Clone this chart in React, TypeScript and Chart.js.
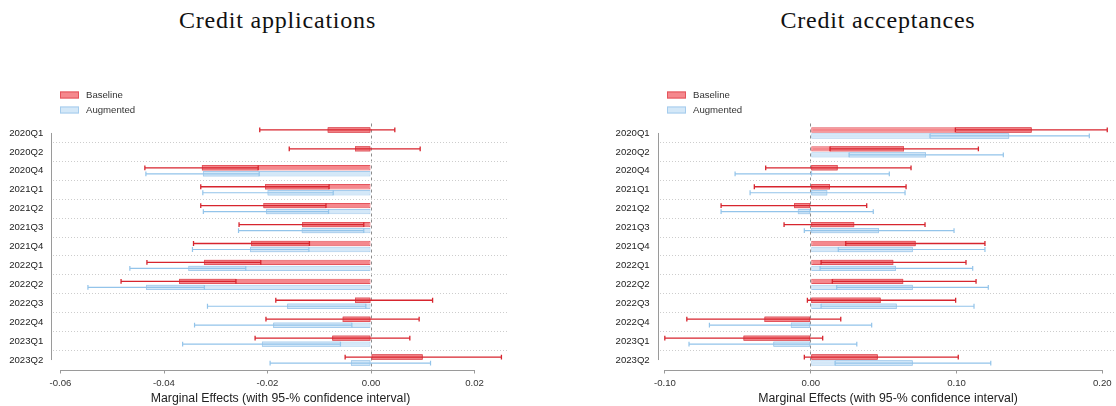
import React, { useEffect, useRef } from 'react';
import { Chart, registerables } from 'chart.js';

Chart.register(...registerables);

// Quarters shown on the vertical axis (top to bottom)
const categories = [
  '2020Q1', '2020Q2', '2020Q4', '2021Q1', '2021Q2', '2021Q3', '2021Q4',
  '2022Q1', '2022Q2', '2022Q3', '2022Q4', '2023Q1', '2023Q2',
];

// Credit applications: marginal effects with 95% confidence bounds
const appBaselineEst = [-0.0084, -0.0031, -0.0327, -0.0205, -0.0208, -0.0133, -0.0232, -0.0323, -0.0371, -0.0031, -0.0055, -0.0075, 0.0100];
const appBaselineLo = [-0.0215, -0.0158, -0.0437, -0.0329, -0.0329, -0.0255, -0.0343, -0.0433, -0.0483, -0.0184, -0.0203, -0.0224, -0.0050];
const appBaselineHi = [0.0046, 0.0095, -0.0218, -0.0081, -0.0087, -0.0014, -0.0119, -0.0213, -0.0261, 0.0119, 0.0093, 0.0075, 0.0252];
const appAugmentedEst = [null, null, -0.0325, -0.0200, -0.0203, -0.0134, -0.0234, -0.0353, -0.0435, -0.0162, -0.0189, -0.0211, -0.0039];
const appAugmentedLo = [null, null, -0.0435, -0.0325, -0.0324, -0.0256, -0.0345, -0.0466, -0.0547, -0.0316, -0.0341, -0.0364, -0.0195];
const appAugmentedHi = [null, null, -0.0216, -0.0073, -0.0082, -0.0014, -0.0120, -0.0242, -0.0322, -0.0010, -0.0037, -0.0059, 0.0115];

// Credit acceptances: marginal effects with 95% confidence bounds
const accBaselineEst = [0.1516, 0.0640, 0.0185, 0.0132, -0.0115, 0.0299, 0.0720, 0.0567, 0.0635, 0.0480, -0.0318, -0.0462, 0.0460];
const accBaselineLo = [0.0992, 0.0132, -0.0309, -0.0387, -0.0615, -0.0183, 0.0240, 0.0071, 0.0148, -0.0023, -0.0850, -0.1001, -0.0044];
const accBaselineHi = [0.2034, 0.1150, 0.0688, 0.0654, 0.0384, 0.0784, 0.1195, 0.1065, 0.1134, 0.0994, 0.0206, 0.0082, 0.1012];
const accAugmentedEst = [0.1362, 0.0791, 0.0010, 0.0114, -0.0089, 0.0468, 0.0700, 0.0585, 0.0700, 0.0590, -0.0137, -0.0257, 0.0700];
const accAugmentedLo = [0.0818, 0.0263, -0.0519, -0.0416, -0.0615, -0.0044, 0.0189, 0.0064, 0.0178, 0.0071, -0.0695, -0.0835, 0.0167];
const accAugmentedHi = [0.1911, 0.1321, 0.0539, 0.0647, 0.0429, 0.0983, 0.1195, 0.1111, 0.1218, 0.1120, 0.0418, 0.0316, 0.1235];

// Tick values on the horizontal axes
const appTicks = [-0.06, -0.04, -0.02, 0, 0.02];
const accTicks = [-0.1, 0, 0.1, 0.2];

const AXIS_TITLE = 'Marginal Effects (with 95-% confidence interval)';

const SANS = '"Liberation Sans", Arial, Helvetica, sans-serif';
const SERIF = '"Liberation Serif", "Times New Roman", Times, serif';

type Style = {
  fill: string;
  border: string;
  coreFill: string;
  coreBorder: string;
  whisker: string;
  whiskerWidth: number;
};

const RED: Style = {
  fill: '#f5888d',
  border: '#e4545c',
  coreFill: '#e4525b',
  coreBorder: '#c81e28',
  whisker: '#d7252e',
  whiskerWidth: 1.3,
};

const BLUE: Style = {
  fill: '#d4e8f8',
  border: '#a5cced',
  coreFill: '#c2def4',
  coreBorder: '#8ebfe6',
  whisker: '#93c4ea',
  whiskerWidth: 1.2,
};

type Series = {
  label: string;
  est: (number | null)[];
  lo: (number | null)[];
  hi: (number | null)[];
  style: Style;
};

// Part of the bar (0..estimate) that lies inside the confidence interval
function coreSpan(e: number | null, lo: number | null, hi: number | null): [number, number] | null {
  if (e == null || lo == null || hi == null) return null;
  const a = Math.max(Math.min(0, e), lo);
  const b = Math.min(Math.max(0, e), hi);
  return b > a ? [a, b] : null;
}

type PanelProps = {
  left: number;
  width: number;
  xMin: number;
  xMax: number;
  ticks: number[];
  yAxisWidth: number;
  labelPad: number;
  rightPad: number;
  series: Series[];
};

function Panel(props: PanelProps) {
  const ref = useRef<HTMLCanvasElement>(null);

  useEffect(() => {
    const canvas = ref.current;
    if (!canvas) return;
    const { series, ticks } = props;

    const datasets: any[] = [];
    series.forEach((s, k) => {
      const stack = 'row' + k;
      datasets.push({
        label: s.label,
        data: s.est.map((e) => (e == null ? null : [0, e])),
        stack,
        backgroundColor: s.style.fill,
        borderColor: s.style.border,
        borderWidth: 1,
        borderSkipped: false,
      });
      datasets.push({
        label: s.label + ' core',
        data: s.est.map((e, i) => coreSpan(e, s.lo[i], s.hi[i])),
        stack,
        backgroundColor: s.style.coreFill,
        borderColor: s.style.coreBorder,
        borderWidth: 1,
        borderSkipped: false,
      });
    });

    // Confidence-interval whiskers with end caps
    const whiskers = {
      id: 'ciWhiskers',
      afterDatasetsDraw(chart: any) {
        const { ctx } = chart;
        const xs = chart.scales.x;
        series.forEach((s, k) => {
          const meta = chart.getDatasetMeta(k * 2);
          ctx.save();
          ctx.strokeStyle = s.style.whisker;
          ctx.lineWidth = s.style.whiskerWidth;
          meta.data.forEach((el: any, i: number) => {
            const lo = s.lo[i];
            const hi = s.hi[i];
            if (s.est[i] == null || lo == null || hi == null) return;
            const y = el.y;
            const x1 = xs.getPixelForValue(lo);
            const x2 = xs.getPixelForValue(hi);
            const h = 2.4;
            ctx.beginPath();
            ctx.moveTo(x1, y);
            ctx.lineTo(x2, y);
            ctx.moveTo(x1, y - h);
            ctx.lineTo(x1, y + h);
            ctx.moveTo(x2, y - h);
            ctx.lineTo(x2, y + h);
            ctx.stroke();
          });
          ctx.restore();
        });
      },
    };

    // Axis lines spanning first to last tick, plus the legend
    const decorations = {
      id: 'axesAndLegend',
      afterDraw(chart: any) {
        const { ctx, chartArea } = chart;
        const xs = chart.scales.x;
        const ys = chart.scales.y;
        ctx.save();
        ctx.strokeStyle = '#9a9a9a';
        ctx.lineWidth = 1;
        ctx.beginPath();
        const ax = Math.round(chartArea.left - 2.5) + 0.5;
        ctx.moveTo(ax, ys.getPixelForTick(0));
        ctx.lineTo(ax, ys.getPixelForTick(ys.ticks.length - 1));
        const ay = Math.round(chartArea.bottom) + 0.5;
        ctx.moveTo(xs.getPixelForValue(ticks[0]), ay);
        ctx.lineTo(xs.getPixelForValue(ticks[ticks.length - 1]), ay);
        ctx.stroke();

        series.forEach((s, k) => {
          const x = chartArea.left + 7;
          const cy = 95 + k * 15;
          ctx.fillStyle = s.style.fill;
          ctx.fillRect(x, cy - 3.5, 19, 7);
          ctx.strokeStyle = s.style.border;
          ctx.strokeRect(x + 0.5, cy - 3, 18, 6);
          ctx.fillStyle = '#333';
          ctx.font = `9.6px ${SANS}`;
          ctx.textBaseline = 'middle';
          ctx.textAlign = 'left';
          ctx.fillText(s.label, x + 26, cy + 0.5);
        });
        ctx.restore();
      },
    };

    const chart = new Chart(canvas, {
      type: 'bar',
      data: { labels: categories, datasets },
      options: {
        indexAxis: 'y',
        responsive: false,
        animation: false,
        events: [],
        layout: { padding: { top: 123.5, right: props.rightPad, bottom: 0, left: 0 } },
        datasets: { bar: { categoryPercentage: 0.634, barPercentage: 0.9 } },
        plugins: {
          legend: { display: false },
          title: { display: false },
          tooltip: { enabled: false },
        },
        scales: {
          x: {
            type: 'linear',
            min: props.xMin,
            max: props.xMax,
            stacked: false,
            afterBuildTicks: (sc: any) => {
              sc.ticks = ticks.map((v) => ({ value: v }));
            },
            afterFit: (sc: any) => {
              sc.height = 36.5;
              sc.paddingLeft = 0;
              sc.paddingRight = 0;
            },
            ticks: {
              callback: (v: any) => Number(v).toFixed(2),
              font: { size: 9.6, family: SANS },
              color: '#333',
              padding: 4,
              maxRotation: 0,
              autoSkip: false,
            },
            grid: {
              color: (c: any) => (c.tick && c.tick.value === 0 ? '#8c8c8c' : 'rgba(0,0,0,0)'),
              lineWidth: 1,
              drawTicks: true,
              tickLength: 4,
              tickColor: '#9a9a9a',
              tickWidth: 1,
            },
            border: { display: false, dash: [3, 3] },
            title: {
              display: true,
              text: AXIS_TITLE,
              font: { size: 12.3, family: SANS },
              color: '#222',
              padding: { top: 0, bottom: 0 },
            },
          },
          y: {
            type: 'category',
            offset: true,
            afterFit: (sc: any) => {
              sc.width = props.yAxisWidth;
              sc.paddingTop = 0;
              sc.paddingBottom = 0;
            },
            ticks: {
              font: { size: 9.6, family: SANS },
              color: '#222',
              padding: props.labelPad,
              autoSkip: false,
            },
            grid: {
              offset: true,
              drawTicks: false,
              color: (c: any) => (c.type !== 'tick' || c.index === 0 ? 'rgba(0,0,0,0)' : '#cdcdcd'),
              lineWidth: 1,
            },
            border: { display: false, dash: [1, 2] },
          },
        },
      } as any,
      plugins: [whiskers, decorations],
    });

    return () => chart.destroy();
  }, []);

  return (
    <canvas
      ref={ref}
      width={props.width}
      height={406}
      style={{ position: 'absolute', left: props.left, top: 0, width: props.width, height: 406, display: 'block' }}
    />
  );
}

const titleStyle: React.CSSProperties = {
  position: 'absolute',
  top: 8,
  width: 500,
  textAlign: 'center',
  fontFamily: SERIF,
  fontSize: 24,
  lineHeight: '24px',
  letterSpacing: 0.8,
  color: '#111',
  whiteSpace: 'nowrap',
};

export default function App() {
  const appSeries: Series[] = [
    { label: 'Baseline', est: appBaselineEst, lo: appBaselineLo, hi: appBaselineHi, style: RED },
    { label: 'Augmented', est: appAugmentedEst, lo: appAugmentedLo, hi: appAugmentedHi, style: BLUE },
  ];
  const accSeries: Series[] = [
    { label: 'Baseline', est: accBaselineEst, lo: accBaselineLo, hi: accBaselineHi, style: RED },
    { label: 'Augmented', est: accAugmentedEst, lo: accAugmentedLo, hi: accAugmentedHi, style: BLUE },
  ];

  return (
    <div
      style={{
        position: 'absolute',
        left: 0,
        top: 0,
        width: 1116,
        height: 406,
        background: '#fff',
        overflow: 'hidden',
      }}
    >
      <div style={{ ...titleStyle, left: 277.5 - 250 }}>Credit applications</div>
      <div style={{ ...titleStyle, left: 878 - 250 }}>Credit acceptances</div>
      <Panel
        left={0}
        width={558}
        xMin={-0.06145}
        xMax={0.02647}
        ticks={appTicks}
        yAxisWidth={53}
        labelPad={9.7}
        rightPad={50}
        series={appSeries}
      />
      <Panel
        left={558}
        width={558}
        xMin={-0.1034}
        xMax={0.2094}
        ticks={accTicks}
        yAxisWidth={102}
        labelPad={10.3}
        rightPad={0}
        series={accSeries}
      />
    </div>
  );
}
